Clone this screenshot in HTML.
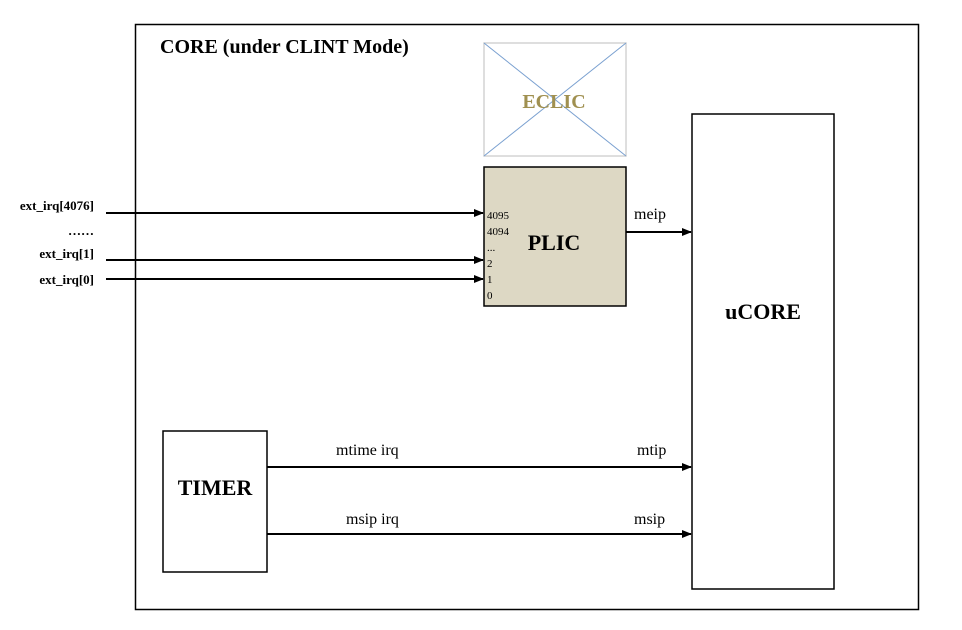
<!DOCTYPE html>
<html><head><meta charset="utf-8"><style>
html,body{margin:0;padding:0;background:#fff;}
svg{display:block;}
text{font-family:"Liberation Serif",serif;}
</style></head><body>
<svg width="962" height="630" viewBox="0 0 962 630" xmlns="http://www.w3.org/2000/svg">
<defs><marker id="a" markerWidth="10" markerHeight="8" refX="9" refY="4" orient="auto" markerUnits="userSpaceOnUse"><path d="M0,0 L10,4 L0,8 z" fill="#000"/></marker></defs>
<rect x="135.5" y="24.5" width="783" height="585" fill="none" stroke="#000" stroke-width="1.5"/>
<text x="160" y="53" font-size="20" font-weight="bold">CORE (under CLINT Mode)</text>
<rect x="484" y="43" width="142" height="113" fill="none" stroke="#d4d4d4" stroke-width="1.5"/>
<line x1="484" y1="43" x2="626" y2="156" stroke="#7aa0d0" stroke-width="1"/>
<line x1="626" y1="43" x2="484" y2="156" stroke="#7aa0d0" stroke-width="1"/>
<text x="554" y="108" font-size="20" font-weight="bold" fill="#a09050" text-anchor="middle">ECLIC</text>
<rect x="484" y="167" width="142" height="139" fill="#ddd8c4" stroke="#000" stroke-width="1.5"/>
<text x="554" y="250" font-size="22" font-weight="bold" text-anchor="middle">PLIC</text>
<g font-size="11"><text x="487" y="219">4095</text><text x="487" y="235">4094</text><text x="487" y="251">...</text><text x="487" y="267">2</text><text x="487" y="283">1</text><text x="487" y="299">0</text></g>
<g font-size="13" font-weight="bold" text-anchor="end"><text x="94" y="210">ext_irq[4076]</text><text x="94" y="235">……</text><text x="94" y="258">ext_irq[1]</text><text x="94" y="284">ext_irq[0]</text></g>
<g stroke="#000" stroke-width="2"><line x1="106" y1="213" x2="483" y2="213" marker-end="url(#a)"/><line x1="106" y1="260" x2="483" y2="260" marker-end="url(#a)"/><line x1="106" y1="279" x2="483" y2="279" marker-end="url(#a)"/><line x1="626" y1="232" x2="691" y2="232" marker-end="url(#a)"/><line x1="267" y1="467" x2="691" y2="467" marker-end="url(#a)"/><line x1="267" y1="534" x2="691" y2="534" marker-end="url(#a)"/></g>
<text x="634" y="219" font-size="16">meip</text>
<rect x="692" y="114" width="142" height="475" fill="#fff" stroke="#000" stroke-width="1.5"/>
<text x="763" y="319" font-size="22" font-weight="bold" text-anchor="middle">uCORE</text>
<rect x="163" y="431" width="104" height="141" fill="#fff" stroke="#000" stroke-width="1.5"/>
<text x="215" y="495" font-size="22" font-weight="bold" text-anchor="middle">TIMER</text>
<g font-size="16"><text x="336" y="455">mtime irq</text><text x="637" y="455">mtip</text><text x="346" y="524">msip irq</text><text x="634" y="524">msip</text></g>
</svg>
</body></html>
